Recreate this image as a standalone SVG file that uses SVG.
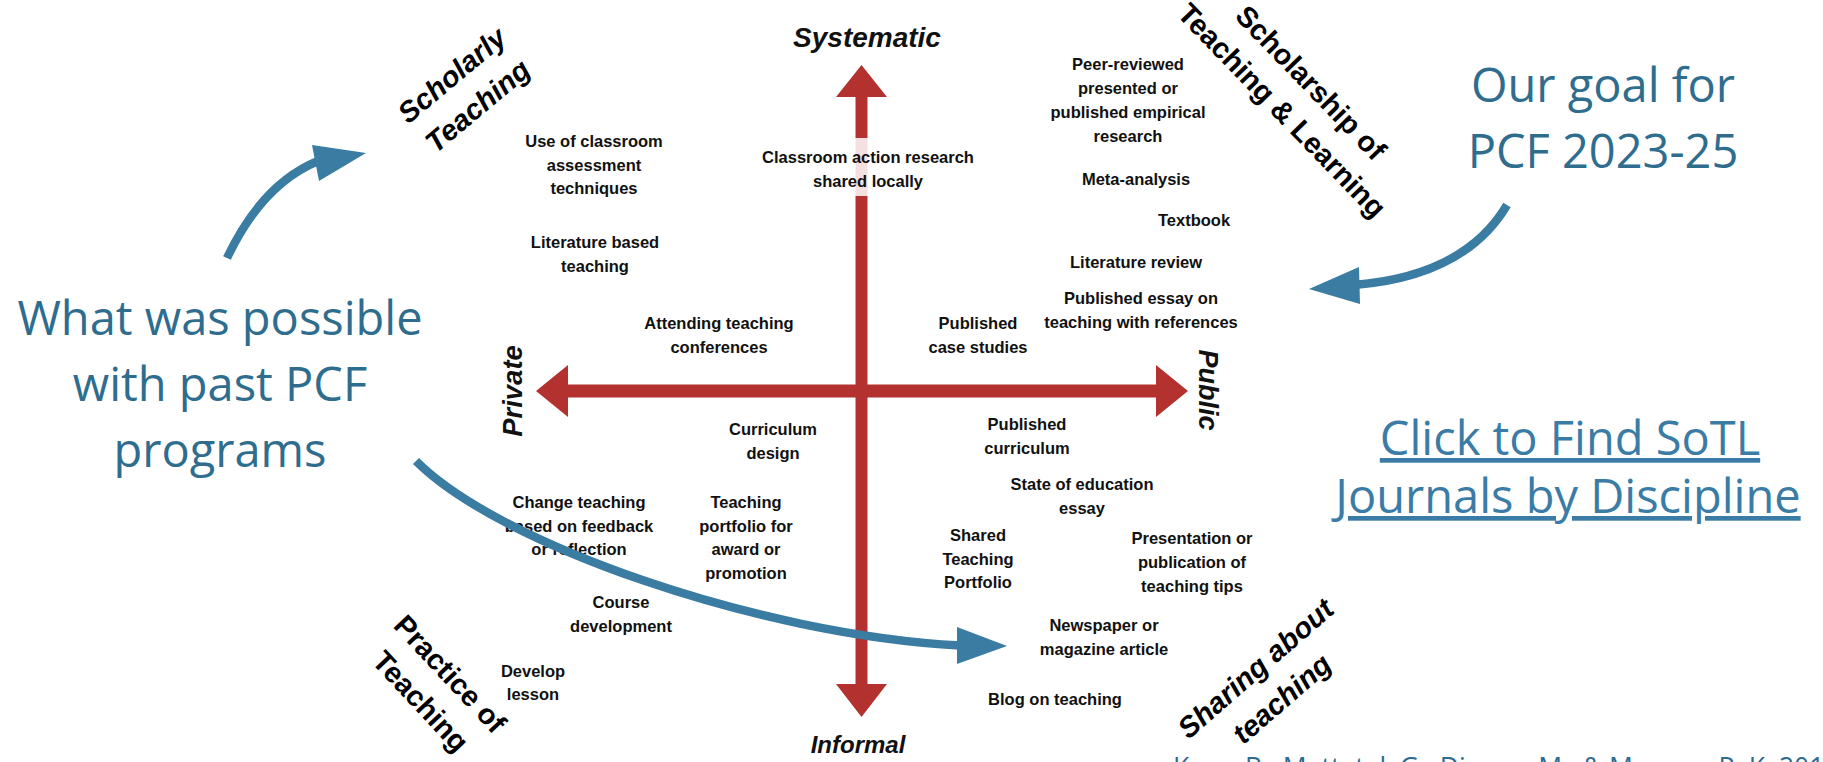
<svg xmlns="http://www.w3.org/2000/svg" width="1823" height="762" viewBox="0 0 1823 762">
<defs>
<style>
.item{font-family:"Liberation Sans",Arial,sans-serif;font-weight:bold;font-size:16.5px;fill:#111;text-anchor:middle}
.axis{font-family:"Liberation Sans",Arial,sans-serif;font-weight:bold;font-style:italic;font-size:26px;fill:#111;text-anchor:middle}
.cat{font-family:"Liberation Sans",Arial,sans-serif;font-weight:bold;font-size:29px;fill:#000;text-anchor:middle}
.ital{font-style:italic}
.blue{font-family:"Open Sans","Noto Sans",sans-serif;font-size:47px;fill:#2f6d8e;text-anchor:middle}
.link{fill:#3a7ca5;text-decoration:underline}
.cite{font-family:"Open Sans","Noto Sans",sans-serif;font-size:26.5px;fill:#2d6b91}
.red{fill:#b3312f}
.bluearrow{fill:none;stroke:#3a7ca2;stroke-width:8.5}
.bluehead{fill:#3a7ca2}
</style>
</defs>
<rect width="1823" height="762" fill="#fff"/>

<g id="axes">
<polygon class="red" points="855.5,97 836,97 861.5,65 887,97 867.5,97 867.5,684 887,684 861.5,717 836,684 855.5,684"/>
<polygon class="red" points="568,384.5 568,365 536,391 568,417 568,397.5 1156,397.5 1156,417 1188,391 1156,365 1156,384.5"/>
</g>

<g id="axis-labels">
<text id="systematic" class="axis" x="867" y="47" style="font-size:28px">Systematic</text>
<text id="informal" class="axis" x="858" y="753" style="font-size:24px">Informal</text>
<text id="private" class="axis" transform="translate(522,391) rotate(-90)" style="font-size:27.5px">Private</text>
<text id="public" class="axis" transform="translate(1199,390) rotate(90)" style="font-size:27px">Public</text>
</g>

<g id="categories">
<g id="scholarly-teaching" transform="translate(466,92) rotate(-40)"><text class="cat ital" y="-12">Scholarly</text><text class="cat ital" y="28">Teaching</text></g>
<g id="sotl" transform="translate(1295,98) rotate(46)"><text class="cat" y="-12">Scholarship of</text><text class="cat" y="28">Teaching &amp; Learning</text></g>
<g id="practice" transform="translate(434,689) rotate(47)"><text class="cat" y="-12">Practice of</text><text class="cat" y="28">Teaching</text></g>
<g id="sharing" transform="translate(1270,685) rotate(-41)"><text class="cat ital" y="-12">Sharing about</text><text class="cat ital" y="28">teaching</text></g>
</g>

<g id="items">
<g id="n-classroom-assessment"><text class="item"><tspan x="594" y="147">Use of classroom</tspan><tspan x="594" y="170.5">assessment</tspan><tspan x="594" y="194">techniques</tspan></text></g>
<g id="n-literature-based"><text class="item"><tspan x="595" y="248">Literature based</tspan><tspan x="595" y="272">teaching</tspan></text></g>
<g id="n-attending"><text class="item"><tspan x="719" y="329">Attending teaching</tspan><tspan x="719" y="353">conferences</tspan></text></g>
<g id="n-action-research"><rect x="752" y="138" width="232" height="58" fill="#fff" fill-opacity="0.85"/><text class="item"><tspan x="868" y="163">Classroom action research</tspan><tspan x="868" y="187">shared locally</tspan></text></g>
<g id="n-peer-reviewed"><text class="item"><tspan x="1128" y="70">Peer-reviewed</tspan><tspan x="1128" y="94">presented or</tspan><tspan x="1128" y="118">published empirical</tspan><tspan x="1128" y="142">research</tspan></text></g>
<g id="n-meta"><text class="item" x="1136" y="185">Meta-analysis</text></g>
<g id="n-textbook"><text class="item" x="1194" y="226">Textbook</text></g>
<g id="n-lit-review"><text class="item" x="1136" y="268">Literature review</text></g>
<g id="n-essay"><text class="item"><tspan x="1141" y="304">Published essay on</tspan><tspan x="1141" y="328">teaching with references</tspan></text></g>
<g id="n-case-studies"><text class="item"><tspan x="978" y="329">Published</tspan><tspan x="978" y="353">case studies</tspan></text></g>
<g id="n-curriculum-design"><text class="item"><tspan x="773" y="435">Curriculum</tspan><tspan x="773" y="459">design</tspan></text></g>
<g id="n-change-teaching"><text class="item"><tspan x="579" y="508">Change teaching</tspan><tspan x="579" y="531.5">based on feedback</tspan><tspan x="579" y="555">or reflection</tspan></text></g>
<g id="n-teaching-portfolio"><text class="item"><tspan x="746" y="508">Teaching</tspan><tspan x="746" y="531.5">portfolio for</tspan><tspan x="746" y="555">award or</tspan><tspan x="746" y="579">promotion</tspan></text></g>
<g id="n-course-dev"><text class="item"><tspan x="621" y="608">Course</tspan><tspan x="621" y="632">development</tspan></text></g>
<g id="n-develop-lesson"><text class="item"><tspan x="533" y="677">Develop</tspan><tspan x="533" y="700">lesson</tspan></text></g>
<g id="n-published-curriculum"><text class="item"><tspan x="1027" y="430">Published</tspan><tspan x="1027" y="454">curriculum</tspan></text></g>
<g id="n-state-of-ed"><text class="item"><tspan x="1082" y="490">State of education</tspan><tspan x="1082" y="514">essay</tspan></text></g>
<g id="n-shared-portfolio"><text class="item"><tspan x="978" y="541">Shared</tspan><tspan x="978" y="565">Teaching</tspan><tspan x="978" y="588">Portfolio</tspan></text></g>
<g id="n-presentation"><text class="item"><tspan x="1192" y="544">Presentation or</tspan><tspan x="1192" y="568">publication of</tspan><tspan x="1192" y="592">teaching tips</tspan></text></g>
<g id="n-newspaper"><text class="item"><tspan x="1104" y="631">Newspaper or</tspan><tspan x="1104" y="655">magazine article</tspan></text></g>
<g id="n-blog"><text class="item" x="1055" y="705">Blog on teaching</text></g>
</g>

<g id="callouts">
<g id="what-was-possible"><text class="blue"><tspan x="220" y="335">What was possible</tspan><tspan x="220" y="401">with past PCF</tspan><tspan x="220" y="467">programs</tspan></text></g>
<g id="our-goal"><text class="blue"><tspan x="1603" y="102">Our goal for</tspan><tspan x="1603" y="168">PCF 2023-25</tspan></text></g>
<g id="sotl-link"><text class="blue link"><tspan x="1570" y="455">Click to Find SoTL</tspan><tspan x="1568" y="513">Journals by Discipline</tspan></text></g>
<g id="citation"><text class="cite" x="1173" y="777">Kern, B., Mettetal, G., Dixson, M., &amp; Morgan, R. K. 2015</text></g>
</g>

<g id="connectors">
<path class="bluearrow" d="M227,258 Q262,184 318,161"/>
<polygon class="bluehead" points="366,153 312,145 319,181"/>
<path class="bluearrow" d="M1507,205 Q1465,276 1354,285"/>
<polygon class="bluehead" points="1309,289 1359,267 1360,304"/>
<path class="bluearrow" d="M416,461 C500,545 760,635 960,645.5"/>
<polygon class="bluehead" points="1007,646 957,627 957,664"/>
</g>
</svg>
